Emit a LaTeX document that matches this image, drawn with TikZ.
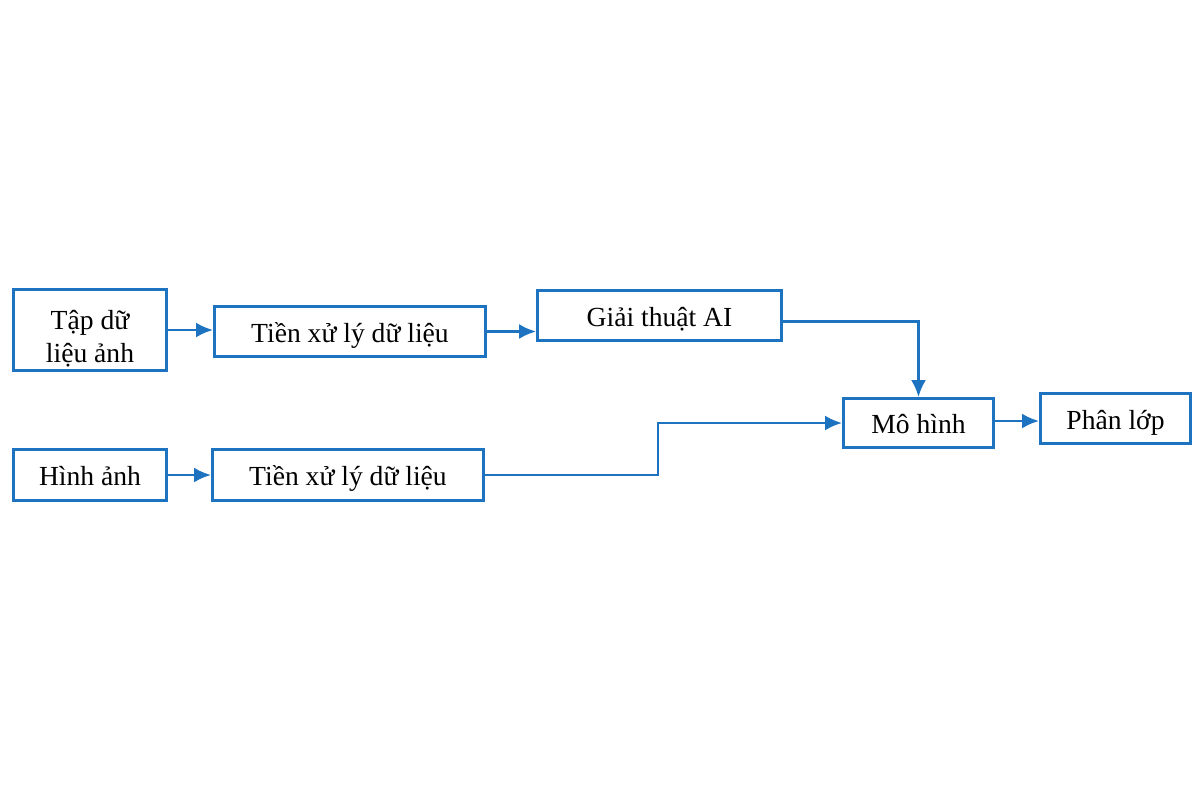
\documentclass[tikz,border=0pt]{standalone}
\usepackage{fontspec}
\setmainfont{Liberation Serif}
\usetikzlibrary{arrows.meta,calc}
\definecolor{bblue}{RGB}{30,115,192}
\begin{document}
\begin{tikzpicture}[x=0.5pt,y=-0.5pt,
  box/.style={draw=bblue,line width=1.4pt,inner sep=0pt,align=center,font=\fontsize{13.8}{16.5}\selectfont,text=black,text height=11pt,text depth=0.5pt},
  conn/.style={draw=bblue,line width=1.4pt,-{Latex[length=8.5pt,width=7.5pt]}}]
\useasboundingbox (0,0) rectangle (1200,800);
\node[box,text height=32pt,text depth=0pt,minimum width=76.5pt,minimum height=40.5pt] (A) at (90,330) {Tập dữ\\liệu ảnh};
\node[box,minimum width=135.5pt,minimum height=25pt] (B) at (350,331.5) {Tiền xử lý dữ liệu};
\node[box,minimum width=122pt,minimum height=25pt] (C) at (659.5,315.5) {Giải thuật AI};
\node[box,minimum width=75pt,minimum height=24.5pt] (D) at (918.5,423) {Mô hình};
\node[box,minimum width=75pt,minimum height=25pt] (E) at (1115.5,418.5) {Phân lớp};
\node[box,minimum width=76.5pt,minimum height=25.5pt] (F) at (90,475) {Hình ảnh};
\node[box,minimum width=135.5pt,minimum height=25.5pt] (G) at (348,475) {Tiền xử lý dữ liệu};
\coordinate (k) at (658,475);
\draw[conn] (A.east) -- (A.east -| B.west);
\draw[conn] (B.east) -- (B.east -| C.west);
\draw[conn] ([yshift=-3pt]C.east) -| (D.north);
\draw[conn] (G.east) -- (k) |- (D.west);
\draw[conn] ([yshift=1pt]D.east) -- ([yshift=1pt]D.east -| E.west);
\draw[conn] (F.east) -- (F.east -| G.west);
\end{tikzpicture}
\end{document}
